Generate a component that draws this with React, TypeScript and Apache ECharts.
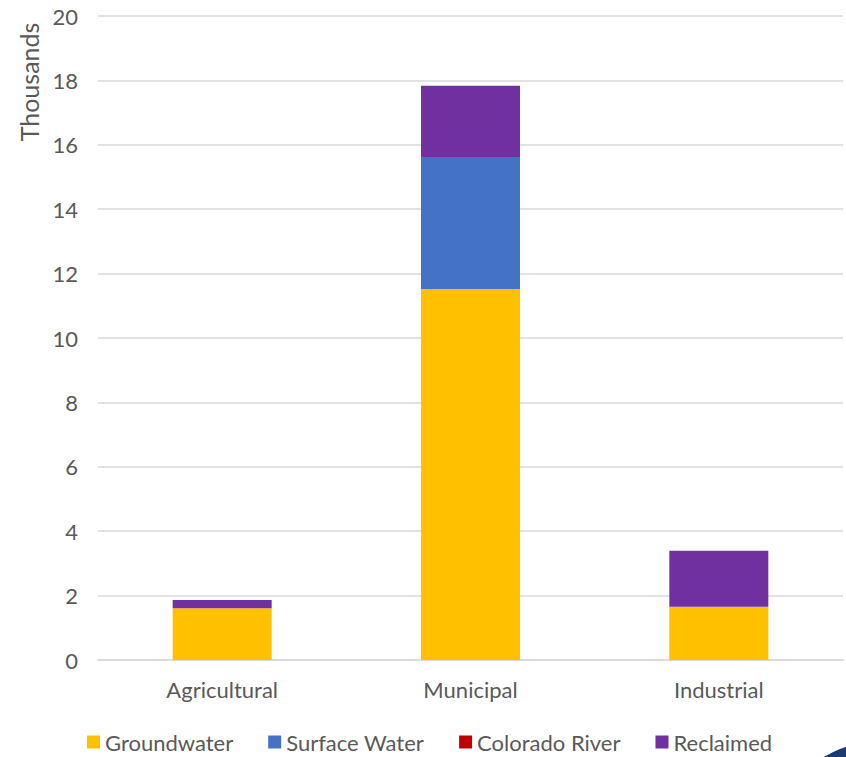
import React, { useEffect, useRef } from "react";
import * as echarts from "echarts";

const categories = ["Agricultural", "Municipal", "Industrial"];
const groundwater = [1.61, 11.52, 1.65];
const surfaceWater = [0, 4.1, 0];
const coloradoRiver = [0, 0, 0];
const reclaimed = [0.25, 2.21, 1.74];
const yTicks = [0, 2, 4, 6, 8, 10, 12, 14, 16, 18, 20];

const FONT = "Lato, 'Open Sans', sans-serif";
const TEXT = "#595959";

export default function App() {
  const ref = useRef<HTMLDivElement>(null);
  useEffect(() => {
    if (!ref.current) return;
    const chart = echarts.init(ref.current, undefined, { renderer: "svg" });
    const mk = (name: string, data: number[], color: string) => ({
      name,
      type: "bar",
      stack: "total",
      data,
      barWidth: 99,
      itemStyle: { color },
      emphasis: { disabled: true },
    });
    chart.setOption({
      animation: false,
      textStyle: { fontFamily: FONT },
      grid: { left: 98, right: 3, top: 16, bottom: 97 },
      legend: {
        top: 731,
        left: 87,
        padding: 0,
        icon: "rect",
        itemWidth: 13,
        itemHeight: 13,
        itemGap: 35,
        textStyle: { color: TEXT, fontSize: 22, fontFamily: FONT },
        data: ["Groundwater", "Surface Water", "Colorado River", "Reclaimed"],
      },
      xAxis: {
        type: "category",
        data: categories,
        axisLine: { lineStyle: { color: "#d9d9d9", width: 1.5 } },
        axisTick: { show: false },
        axisLabel: { color: TEXT, fontSize: 22, margin: 18 },
      },
      yAxis: {
        type: "value",
        min: yTicks[0],
        max: yTicks[yTicks.length - 1],
        interval: 2,
        axisLine: { show: false },
        axisTick: { show: false },
        axisLabel: { color: TEXT, fontSize: 22, margin: 20 },
        splitLine: { lineStyle: { color: "#d9d9d9", width: 1.5 } },
      },
      graphic: [
        {
          type: "text",
          x: 29,
          y: 82,
          rotation: Math.PI / 2,
          style: {
            text: "Thousands",
            fill: TEXT,
            fontSize: 25,
            fontFamily: FONT,
            align: "center",
            verticalAlign: "middle",
          },
        },
        {
          type: "circle",
          shape: { cx: 885, cy: 858, r: 118 },
          style: { fill: "#1d3b6f" },
        },
      ],
      series: [
        mk("Groundwater", groundwater, "#ffc000"),
        mk("Surface Water", surfaceWater, "#4472c4"),
        mk("Colorado River", coloradoRiver, "#c00000"),
        mk("Reclaimed", reclaimed, "#7030a0"),
      ],
    });
    return () => chart.dispose();
  }, []);
  return <div ref={ref} style={{ width: 846, height: 757, position: "absolute", left: 0, top: 0 }} />;
}
